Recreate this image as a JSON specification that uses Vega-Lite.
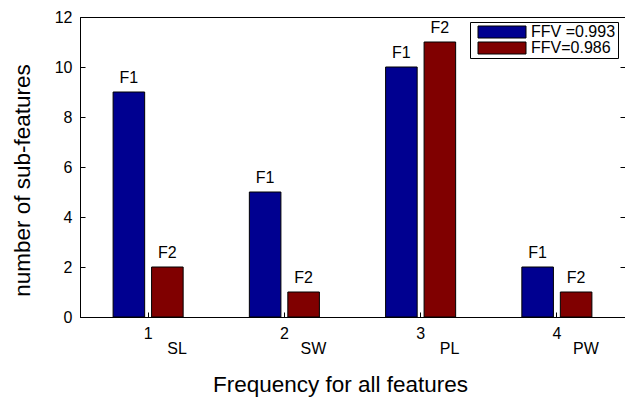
{
  "$schema": "https://vega.github.io/schema/vega-lite/v6.json",
  "width": 545,
  "height": 300,
  "autosize": {"type": "none"},
  "padding": {"left": 80, "top": 17, "right": 0, "bottom": 83},
  "config": {
    "view": {"stroke": "black", "strokeWidth": 1},
    "font": "Liberation Sans",
    "axis": {
      "domainColor": "black", "tickColor": "black", "labelColor": "black", "titleColor": "black",
      "labelFont": "Liberation Sans", "titleFont": "Liberation Sans",
      "labelFontSize": 16, "titleFontSize": 22.5, "titleFontWeight": "normal", "grid": false
    }
  },
  "data": {
    "values": [
      {"group": 1, "series": "FFV =0.993", "tag": "F1", "count": 9},
      {"group": 1, "series": "FFV=0.986", "tag": "F2", "count": 2},
      {"group": 2, "series": "FFV =0.993", "tag": "F1", "count": 5},
      {"group": 2, "series": "FFV=0.986", "tag": "F2", "count": 1},
      {"group": 3, "series": "FFV =0.993", "tag": "F1", "count": 10},
      {"group": 3, "series": "FFV=0.986", "tag": "F2", "count": 11},
      {"group": 4, "series": "FFV =0.993", "tag": "F1", "count": 2},
      {"group": 4, "series": "FFV=0.986", "tag": "F2", "count": 1}
    ]
  },
  "encoding": {
    "xOffset": {"field": "series", "type": "nominal", "scale": {"paddingInner": 0.18, "paddingOuter": 0.86}}
  },
  "layer": [
    {
      "mark": {"type": "bar", "stroke": "black", "strokeWidth": 1},
      "encoding": {
        "x": {
          "field": "group", "type": "ordinal",
          "scale": {"type": "band", "paddingInner": 0, "paddingOuter": 0},
          "axis": {"title": null, "orient": "bottom", "labelAngle": 0, "tickSize": -5, "labelPadding": 13}
        },
        "y": {
          "field": "count", "type": "quantitative",
          "scale": {"domain": [0, 12], "nice": false},
          "axis": {"orient": "left", "values": [0, 2, 4, 6, 8, 10, 12], "title": "number of sub-features", "tickSize": -5, "labelPadding": 13, "titlePadding": 20, "titleY": 163}
        },
        "color": {
          "field": "series", "type": "nominal",
          "scale": {"domain": ["FFV =0.993", "FFV=0.986"], "range": ["#000090", "#800000"]},
          "legend": {
            "title": null, "orient": "none", "legendX": 390, "legendY": 5,
            "strokeColor": "black", "fillColor": "white", "padding": 2, "cornerRadius": 0,
            "symbolType": "M-4,-1H4V1H-4Z", "symbolSize": 144, "symbolOffset": 22,
            "symbolStrokeColor": "black", "symbolStrokeWidth": 1,
            "labelFontSize": 16, "labelFont": "Liberation Sans", "labelColor": "black",
            "rowPadding": 0, "labelOffset": 21
          }
        }
      }
    },
    {
      "mark": {"type": "text", "baseline": "bottom", "dy": -6, "fontSize": 16, "font": "Liberation Sans", "color": "black"},
      "encoding": {
        "x": {
          "field": "group", "type": "ordinal",
          "scale": {"type": "band", "paddingInner": 0, "paddingOuter": 0},
          "axis": {
            "title": "Frequency for all features", "orient": "bottom", "labelAngle": 0,
            "ticks": false, "domain": false, "labelPadding": 23, "labelOffset": 29, "titlePadding": 17, "titleX": 260,
            "labelExpr": "['SL','SW','PL','PW'][datum.value - 1]"
          }
        },
        "y": {
          "field": "count", "type": "quantitative",
          "axis": {"orient": "right", "values": [0, 2, 4, 6, 8, 10, 12], "labels": false, "domain": false, "title": null, "tickSize": -5}
        },
        "text": {"field": "tag"}
      }
    }
  ],
  "resolve": {"axis": {"x": "independent", "y": "independent"}}
}
